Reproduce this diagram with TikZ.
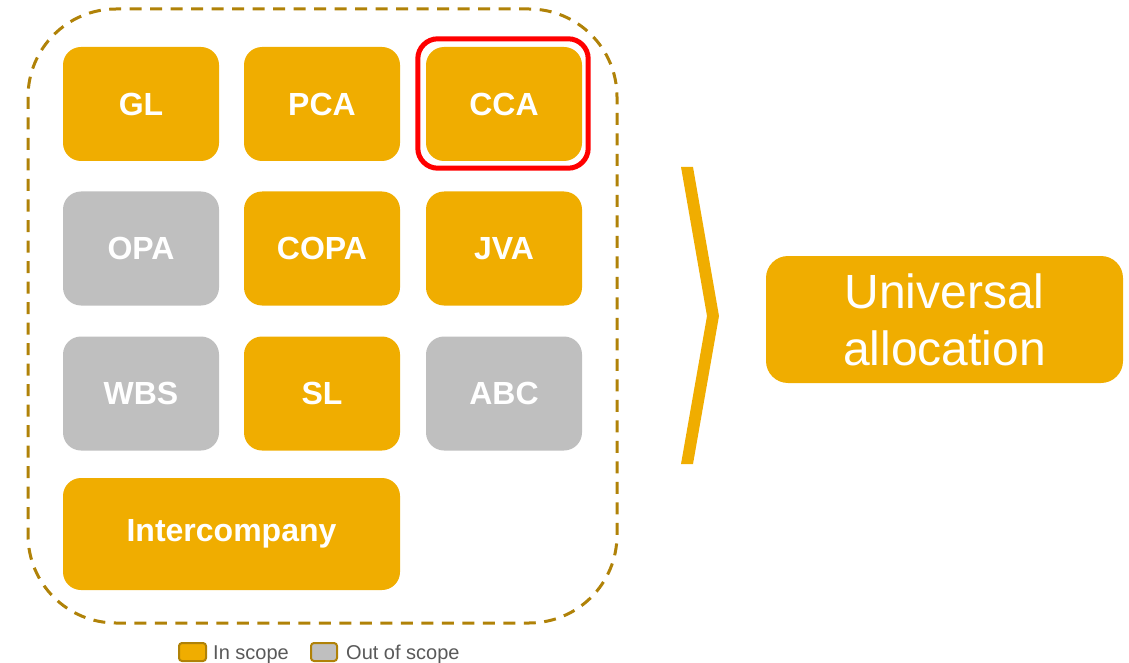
\documentclass[tikz,border=0pt]{standalone}
\usepackage{fontspec}
\setmainfont{Liberation Sans}
\usepackage{tikz}
\usetikzlibrary{calc}
\definecolor{inscope}{HTML}{F0AD00}
\definecolor{outscope}{HTML}{BFBFBF}
\definecolor{framegold}{HTML}{B08208}
\definecolor{legendgray}{HTML}{595959}
\tikzset{
    module/.style={rounded corners=18pt, minimum width=156pt, minimum height=114pt,
        inner sep=0pt, text=white, font=\fontsize{32}{38}\selectfont\bfseries},
    legendbox/.style={draw=framegold, line width=2pt, rounded corners=3pt},
    legendtext/.style={anchor=base west, inner sep=0pt, text=legendgray,
        font=\fontsize{20}{24}\selectfont}
}

\begin{document}
\begin{tikzpicture}[x=1pt, y=-1pt]
    \useasboundingbox (0,0) rectangle (1129,663);

    % scope frame
    \draw[framegold, line width=3pt, dash pattern=on 12pt off 8.5pt, rounded corners=88pt]
        (28,9) rectangle (617,623);

    % modules
    \foreach \name/\x/\y/\label/\co in {
        gl/141/104/GL/inscope,
        pca/322/104/PCA/inscope,
        cca/504/104/CCA/inscope,
        opa/141/248.5/OPA/outscope,
        copa/322/248.5/COPA/inscope,
        jva/504/248.5/JVA/inscope,
        wbs/141/393.5/WBS/outscope,
        sl/322/393.5/SL/inscope,
        abc/504/393.5/ABC/outscope}{

        \node[module, fill=\co] (\name) at (\x,\y) {\label};
    }
    \node[module, fill=inscope, minimum width=337pt, minimum height=112pt]
        (ic) at (231.5,534) {Intercompany};

    % highlight
    \draw[red, line width=5pt, rounded corners=20pt]
        ([xshift=-8pt,yshift=8pt]cca.north west) rectangle ([xshift=6pt,yshift=-7pt]cca.south east);

    % chevron
    \fill[inscope]
        (681,167) -- (693,167) -- (719,316) -- (693,464) -- (681,464) -- (707,316) -- cycle;

    % target
    \node[module, fill=inscope, rounded corners=22pt, minimum width=357pt, minimum height=127pt,
        align=center, font=\fontsize{48}{57}\selectfont]
        (ua) at (944.5,319.5) {Universal\\allocation};

    % legend
    \draw[legendbox, fill=inscope] (179,643) rectangle (206,661);
    \node[legendtext] (inlabel) at (213,659) {In scope};
    \draw[legendbox, fill=outscope] (311,643) rectangle (337,661);
    \node[legendtext] (outlabel) at (346,659) {Out of scope};
\end{tikzpicture}
\end{document}
